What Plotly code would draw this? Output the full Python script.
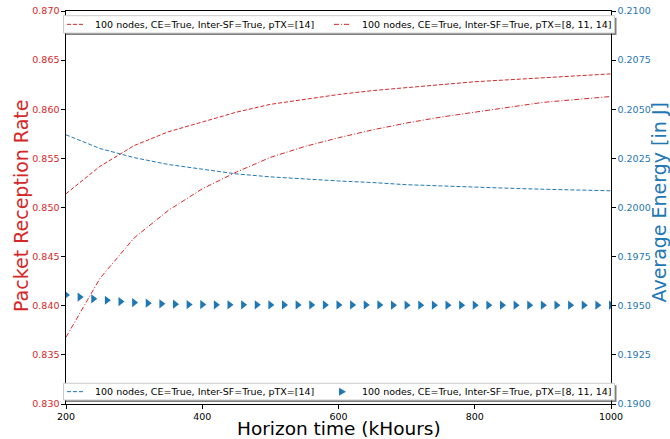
import plotly.graph_objects as go

# ---- data ----
x_lines = [200, 250, 300, 350, 400, 450, 500, 550, 600, 650, 700, 750, 800, 850, 900, 950, 1000]
prr_ptx14 = [0.8514, 0.8542, 0.8563, 0.8577, 0.8587, 0.8597, 0.8605, 0.8610, 0.8615, 0.8619,
             0.8622, 0.8625, 0.8628, 0.8630, 0.8632, 0.8634, 0.8636]
prr_ptx_multi = [0.8368, 0.8428, 0.8469, 0.8497, 0.8519, 0.8536, 0.8551, 0.8562, 0.8571, 0.8579,
                 0.8586, 0.8592, 0.8597, 0.8602, 0.8607, 0.8610, 0.8613]
energy_ptx14 = [0.20370, 0.20300, 0.20254, 0.20219, 0.20195, 0.20171, 0.20156, 0.20145, 0.20135,
                0.20127, 0.20116, 0.20110, 0.20103, 0.20098, 0.20093, 0.20089, 0.20085]
x_markers = list(range(200, 1001, 20))
energy_ptx_multi = [0.19555, 0.19544, 0.19535, 0.19528, 0.19521, 0.19516, 0.19513, 0.19510, 0.19508,
                    0.19506, 0.19506, 0.19505, 0.19505, 0.19505, 0.19505, 0.19504, 0.19504, 0.19504,
                    0.19504, 0.19504, 0.19504, 0.19504, 0.19504, 0.19504, 0.19503, 0.19503, 0.19503,
                    0.19503, 0.19503, 0.19503, 0.19503, 0.19503, 0.19503, 0.19503, 0.19503, 0.19503,
                    0.19503, 0.19503, 0.19503, 0.19503, 0.19503]
labels = ["100 nodes, CE=True, Inter-SF=True, pTX=[14]",
          "100 nodes, CE=True, Inter-SF=True, pTX=[8, 11, 14]"]
x_title = "Horizon time (kHours)"
y_title = "Packet Reception Rate"
y2_title = "Average Energy [in J]"

RED = "#d62728"
BLUE = "#1f77b4"
FONT = "DejaVu Sans"
DASH = "4px,2px"
DASHDOT = "5px,2px,1px,2px"
TITLE_SIZE = 19

W, H = 670, 439
ML, MR, MT, MB = 66, 59, 11, 35
PW, PH = W - ML - MR, H - MT - MB


def px(xp):
    return (xp - ML) / PW


def py(yp):
    return (H - MB - yp) / PH


fig = go.Figure()
fig.add_trace(go.Scatter(x=x_lines, y=prr_ptx14, mode="lines", name=labels[0],
                         line=dict(color=RED, width=1, dash=DASH)))
fig.add_trace(go.Scatter(x=x_lines, y=prr_ptx_multi, mode="lines", name=labels[1],
                         line=dict(color=RED, width=1, dash=DASHDOT)))
fig.add_trace(go.Scatter(x=x_lines, y=energy_ptx14, mode="lines", name=labels[0], yaxis="y2",
                         line=dict(color=BLUE, width=1, dash=DASH)))
fig.add_trace(go.Scatter(x=x_markers, y=energy_ptx_multi, mode="markers", name=labels[1], yaxis="y2",
                         marker=dict(color=BLUE, symbol="triangle-right", size=8)))

axis_common = dict(showline=True, linecolor="black", linewidth=1.2, ticks="outside", ticklen=3.5,
                   tickcolor="black", showgrid=False, zeroline=False, automargin=False)

# ---- legend boxes drawn by hand (matplotlib style with shadow) ----
shapes = []
annotations = []
legend_boxes = [  # (top, bottom) in pixels
    (15.7, 33.0),
    (383.3, 400.0),
]
box_left, box_right = 63.5, 614.5
legend_entries = [
    [("line", RED, DASH), ("line", RED, DASHDOT)],
    [("line", BLUE, DASH), ("marker", BLUE, None)],
]
col_sample_x = [(67, 84), (334, 351)]
col_text_x = [93, 360]

for (top, bot), entries in zip(legend_boxes, legend_entries):
    shapes.append(dict(type="rect", xref="paper", yref="paper", layer="above",
                       x0=px(box_left + 2), x1=px(box_right + 2), y0=py(bot + 2), y1=py(top + 2),
                       fillcolor="rgba(0,0,0,0.5)", line=dict(width=0)))
    shapes.append(dict(type="rect", xref="paper", yref="paper", layer="above",
                       x0=px(box_left), x1=px(box_right), y0=py(bot), y1=py(top),
                       fillcolor="white", line=dict(color="#cccccc", width=1)))
    yc = (top + bot) / 2
    for (kind, col, dash), (sx0, sx1), tx, lab in zip(entries, col_sample_x, col_text_x, labels):
        if kind == "line":
            shapes.append(dict(type="line", xref="paper", yref="paper", layer="above",
                               x0=px(sx0), x1=px(sx1), y0=py(yc), y1=py(yc),
                               line=dict(color=col, width=1, dash=dash)))
        else:
            cx = (sx0 + sx1) / 2
            path = "M {:.5f},{:.5f} L {:.5f},{:.5f} L {:.5f},{:.5f} Z".format(
                px(cx - 3.5), py(yc - 4), px(cx + 3.5), py(yc), px(cx - 3.5), py(yc + 4))
            shapes.append(dict(type="path", xref="paper", yref="paper", layer="above",
                               path=path, fillcolor=col, line=dict(width=0)))
        annotations.append(dict(text=lab, xref="paper", yref="paper", x=px(tx), y=py(yc),
                                xanchor="left", yanchor="middle", showarrow=False,
                                font=dict(size=9.5, color="black")))

# ---- axis titles, placed like the reference ----
annotations.append(dict(text=x_title, xref="paper", yref="paper", x=0.5, y=py(428),
                        xanchor="center", yanchor="middle", showarrow=False,
                        font=dict(size=18.5, color="black")))
annotations.append(dict(text=y_title, xref="paper", yref="paper", x=px(21), y=py(206),
                        xanchor="center", yanchor="middle", showarrow=False, textangle=-90,
                        font=dict(size=TITLE_SIZE, color=RED)))
annotations.append(dict(text=y2_title, xref="paper", yref="paper", x=px(658.5), y=py(203),
                        xanchor="center", yanchor="middle", showarrow=False, textangle=-90,
                        font=dict(size=TITLE_SIZE, color=BLUE)))

fig.update_layout(
    width=W, height=H,
    margin=dict(l=ML, r=MR, t=MT, b=MB),
    paper_bgcolor="white", plot_bgcolor="white",
    font=dict(family=FONT, size=9.5, color="black"),
    showlegend=False,
    xaxis=dict(range=[200, 1000], dtick=200, mirror=True, **axis_common),
    yaxis=dict(range=[0.83, 0.87], dtick=0.005, tickformat=".3f",
               tickfont=dict(color=RED), **axis_common),
    yaxis2=dict(range=[0.19, 0.21], dtick=0.0025, tickformat=".4f", overlaying="y", side="right",
                tickfont=dict(color=BLUE), **axis_common),
    shapes=shapes,
    annotations=annotations,
)

fig.write_html("out.html")
